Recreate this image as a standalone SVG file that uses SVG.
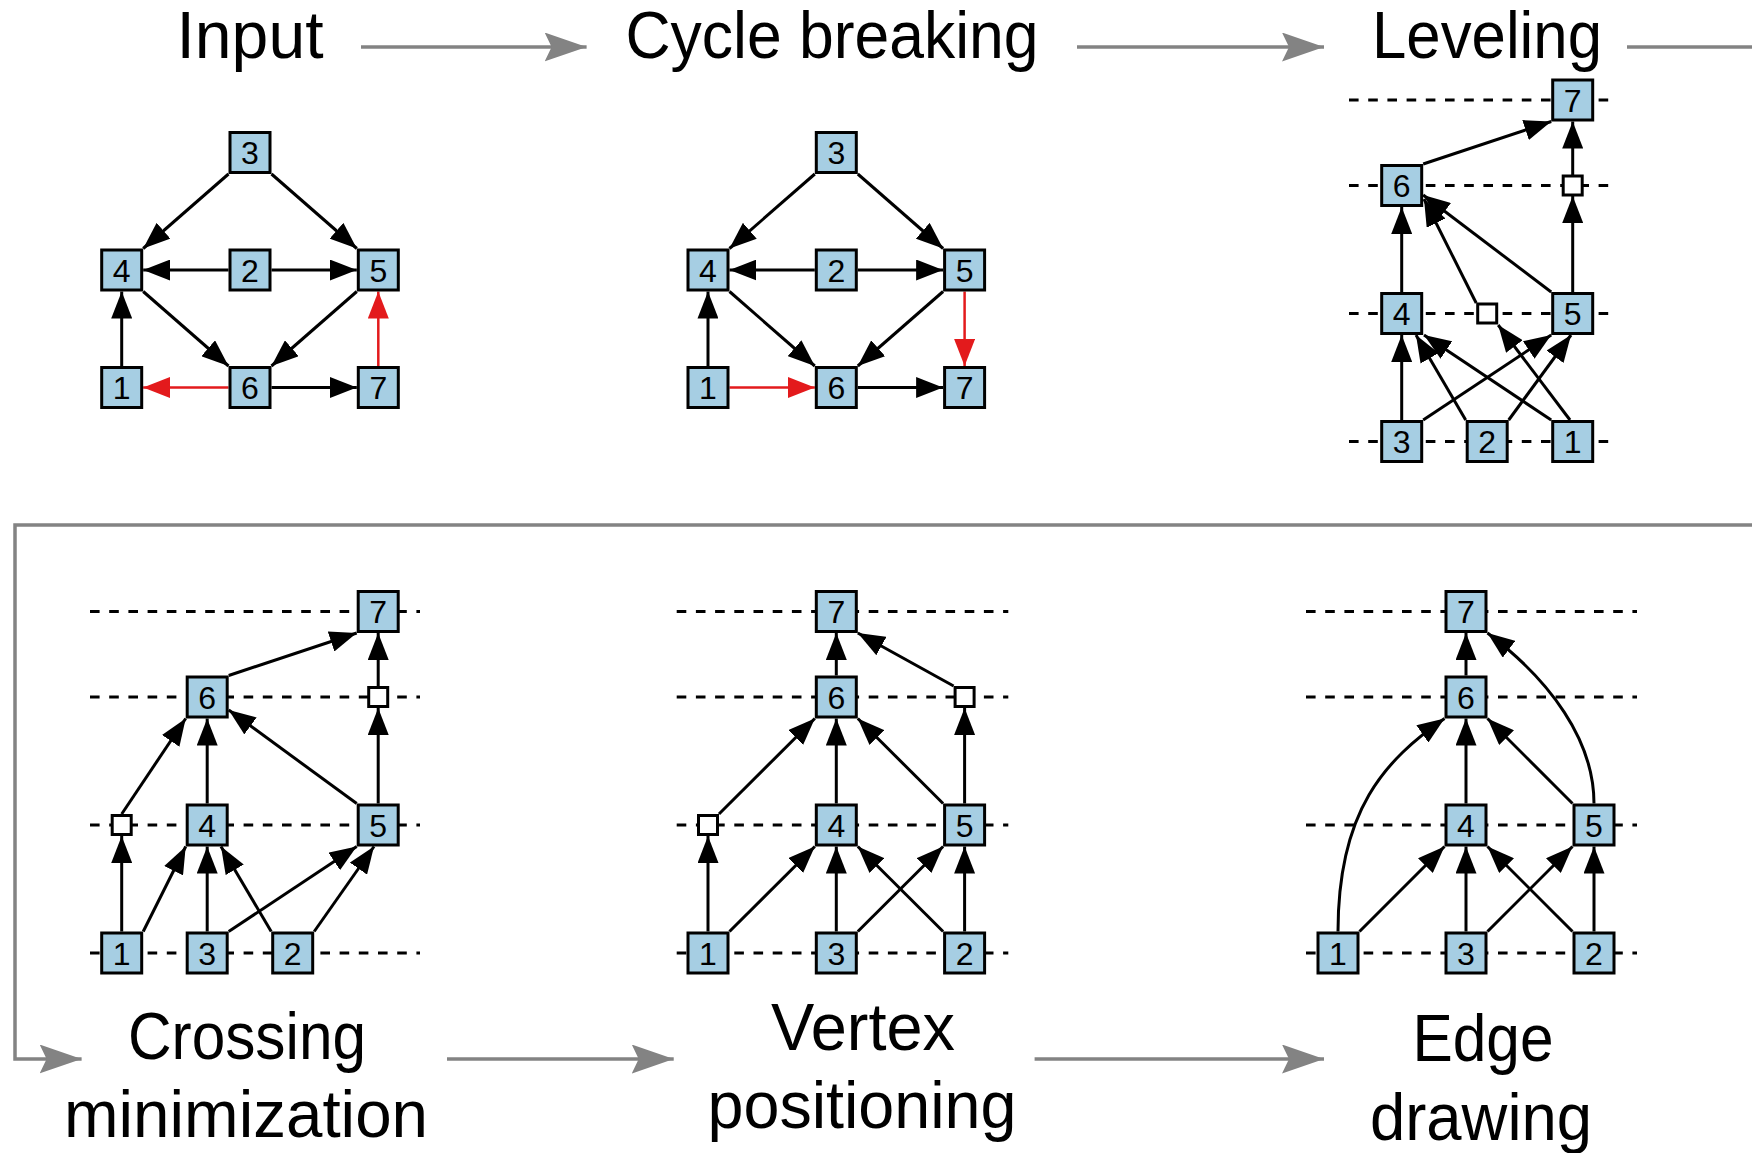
<svg xmlns="http://www.w3.org/2000/svg" width="1752" height="1153" viewBox="0 0 1752 1153">
<style>
.n rect{fill:#a6cee3;stroke:#000;stroke-width:3}
.d rect{fill:#fff;stroke:#000;stroke-width:3}
.n text{font-family:"Liberation Sans",Arial,sans-serif;font-size:32px;text-anchor:middle;fill:#000}
.e{stroke:#000;stroke-width:3;fill:none;marker-end:url(#ah)}
.r{stroke:#e31a1c;stroke-width:2.5;fill:none;marker-end:url(#ahr)}
.lv{stroke:#000;stroke-width:3;stroke-dasharray:9.6 9.6;fill:none}
.g{stroke:#838383;stroke-width:3.5;fill:none}
.ga{marker-end:url(#gah)}
.t{font-family:"Liberation Sans",Arial,sans-serif;font-size:66px;text-anchor:middle;fill:#000}
</style>
<defs>
<marker id="ah" markerUnits="userSpaceOnUse" markerWidth="27" markerHeight="21" viewBox="0 0 27 21" refX="27" refY="10.5" orient="auto"><path d="M0,0 L27,10.5 L0,21 z" fill="#000"/></marker>
<marker id="ahr" markerUnits="userSpaceOnUse" markerWidth="27" markerHeight="21" viewBox="0 0 27 21" refX="27" refY="10.5" orient="auto"><path d="M0,0 L27,10.5 L0,21 z" fill="#e31a1c"/></marker>
<marker id="gah" markerUnits="userSpaceOnUse" markerWidth="42" markerHeight="29" viewBox="0 0 42 29" refX="42" refY="14.5" orient="auto"><path d="M0,0 L42,14.5 L0,29 L7,14.5 z" fill="#838383"/></marker>
</defs>

<!-- titles -->
<g id="titles">
<text class="t" x="250" y="58" textLength="147" lengthAdjust="spacingAndGlyphs">Input</text>
<text class="t" x="832" y="58" textLength="413" lengthAdjust="spacingAndGlyphs">Cycle breaking</text>
<text class="t" x="1487" y="58" textLength="230" lengthAdjust="spacingAndGlyphs">Leveling</text>
<text class="t" x="247" y="1059" textLength="238" lengthAdjust="spacingAndGlyphs">Crossing</text>
<text class="t" x="246" y="1137" textLength="364" lengthAdjust="spacingAndGlyphs">minimization</text>
<text class="t" x="863" y="1050" textLength="184" lengthAdjust="spacingAndGlyphs">Vertex</text>
<text class="t" x="862" y="1128" textLength="309" lengthAdjust="spacingAndGlyphs">positioning</text>
<text class="t" x="1483" y="1061" textLength="141" lengthAdjust="spacingAndGlyphs">Edge</text>
<text class="t" x="1481" y="1140" textLength="222" lengthAdjust="spacingAndGlyphs">drawing</text>
</g>

<!-- process arrows -->
<g id="process-connectors">
<path class="g ga" d="M361,47 H586.6"/>
<path class="g ga" d="M1077,47 H1324"/>
<path class="g" d="M1627,47 H1752"/>
<path class="g ga" d="M1752,525 H15 V1059 H81.6"/>
<path class="g ga" d="M447,1059 H673.7"/>
<path class="g ga" d="M1034.6,1059 H1324"/>
</g>

<!-- level lines -->
<g id="level-lines">
<path class="lv" d="M1349,100 H1615 M1349,185.5 H1615 M1349,313.5 H1615 M1349,441.5 H1615"/>
<path class="lv" d="M90,611.5 H420 M90,697 H420 M90,825 H420 M90,953 H420"/>
<path class="lv" d="M676.7,611.5 H1008.3 M676.7,697 H1008.3 M676.7,825 H1008.3 M676.7,953 H1008.3"/>
<path class="lv" d="M1306,611.5 H1637 M1306,697 H1637 M1306,825 H1637 M1306,953 H1637"/>
</g>

<!-- connectors -->
<g id="connectors">
<!-- Input -->
<path class="e" d="M228.5,174 L143.2,248.5"/>
<path class="e" d="M271.5,174 L356.8,248.5"/>
<path class="e" d="M228.5,270 L143.2,270"/>
<path class="e" d="M271.5,270 L356.8,270"/>
<path class="e" d="M143.2,291.5 L228.5,366"/>
<path class="e" d="M356.8,291.5 L271.5,366"/>
<path class="e" d="M121.7,366 L121.7,291.5"/>
<path class="r" d="M228.5,387.5 L143.2,387.5"/>
<path class="e" d="M271.5,387.5 L356.8,387.5"/>
<path class="r" d="M378.3,366 L378.3,291.5"/>
<!-- Cycle breaking -->
<g transform="translate(586.3,0)">
<path class="e" d="M228.5,174 L143.2,248.5"/>
<path class="e" d="M271.5,174 L356.8,248.5"/>
<path class="e" d="M228.5,270 L143.2,270"/>
<path class="e" d="M271.5,270 L356.8,270"/>
<path class="e" d="M143.2,291.5 L228.5,366"/>
<path class="e" d="M356.8,291.5 L271.5,366"/>
<path class="e" d="M121.7,366 L121.7,291.5"/>
<path class="r" d="M143.2,387.5 L228.5,387.5"/>
<path class="e" d="M271.5,387.5 L356.8,387.5"/>
<path class="r" d="M378.3,291.5 L378.3,366"/>
</g>
<!-- Leveling -->
<path class="e" d="M1423.2,164 L1551.2,121.5"/>
<path class="e" d="M1572.7,175 L1572.7,121.5"/>
<path class="e" d="M1572.7,292 L1572.7,196"/>
<path class="e" d="M1401.7,292 L1401.7,207"/>
<path class="e" d="M1476.2,303 L1424,199"/>
<path class="e" d="M1551.2,292 L1423.2,195"/>
<path class="e" d="M1401.7,420 L1401.7,335"/>
<path class="e" d="M1465.7,420 L1416,335"/>
<path class="e" d="M1551.2,420 L1424,335"/>
<path class="e" d="M1570,420 L1498.2,325"/>
<path class="e" d="M1423.2,420 L1551.2,335"/>
<path class="e" d="M1508.7,420 L1571,335"/>
<!-- Crossing minimization -->
<path class="e" d="M228.7,675.5 L356.7,633"/>
<path class="e" d="M378.2,686 L378.2,633"/>
<path class="e" d="M378.2,803.5 L378.2,708"/>
<path class="e" d="M121.7,814 L185.7,718.5"/>
<path class="e" d="M207.2,803.5 L207.2,718.5"/>
<path class="e" d="M356.7,803.5 L228.7,710"/>
<path class="e" d="M121.7,931.5 L121.7,836"/>
<path class="e" d="M143.2,931.5 L185.7,846.5"/>
<path class="e" d="M207.2,931.5 L207.2,846.5"/>
<path class="e" d="M271.2,931.5 L221,846.5"/>
<path class="e" d="M228.7,931.5 L356.7,846.5"/>
<path class="e" d="M314.2,931.5 L374,846.5"/>
<!-- Vertex positioning -->
<path class="e" d="M836.3,675.5 L836.3,633"/>
<path class="e" d="M953.6,686 L857.8,633"/>
<path class="e" d="M836.3,803.5 L836.3,718.5"/>
<path class="e" d="M719,814 L814.8,718.5"/>
<path class="e" d="M943.1,803.5 L857.8,718.5"/>
<path class="e" d="M964.6,803.5 L964.6,708"/>
<path class="e" d="M708,931.5 L708,836"/>
<path class="e" d="M729.5,931.5 L814.8,846.5"/>
<path class="e" d="M836.3,931.5 L836.3,846.5"/>
<path class="e" d="M943.1,931.5 L857.8,846.5"/>
<path class="e" d="M857.8,931.5 L943.1,846.5"/>
<path class="e" d="M964.6,931.5 L964.6,846.5"/>
<!-- Edge drawing -->
<path class="e" d="M1466,675.5 L1466,633"/>
<path class="e" d="M1594,803.5 C1594,740 1550,680 1487.5,633"/>
<path class="e" d="M1466,803.5 L1466,718.5"/>
<path class="e" d="M1572.5,803.5 L1487.5,718.5"/>
<path class="e" d="M1338,931.5 C1338,810 1385,760 1444.5,718.5"/>
<path class="e" d="M1359.5,931.5 L1444.5,846.5"/>
<path class="e" d="M1466,931.5 L1466,846.5"/>
<path class="e" d="M1572.5,931.5 L1487.5,846.5"/>
<path class="e" d="M1487.5,931.5 L1572.5,846.5"/>
<path class="e" d="M1594,931.5 L1594,846.5"/>
</g>

<!-- Input nodes -->
<g id="a3" class="n"><rect x="230" y="132.5" width="40" height="40"/><text x="250" y="164">3</text></g>
<g id="a4" class="n"><rect x="101.7" y="250" width="40" height="40"/><text x="121.7" y="281.5">4</text></g>
<g id="a2" class="n"><rect x="230" y="250" width="40" height="40"/><text x="250" y="281.5">2</text></g>
<g id="a5" class="n"><rect x="358.3" y="250" width="40" height="40"/><text x="378.3" y="281.5">5</text></g>
<g id="a1" class="n"><rect x="101.7" y="367.5" width="40" height="40"/><text x="121.7" y="399">1</text></g>
<g id="a6" class="n"><rect x="230" y="367.5" width="40" height="40"/><text x="250" y="399">6</text></g>
<g id="a7" class="n"><rect x="358.3" y="367.5" width="40" height="40"/><text x="378.3" y="399">7</text></g>

<!-- Cycle breaking nodes -->
<g transform="translate(586.3,0)">
<g id="b3" class="n"><rect x="230" y="132.5" width="40" height="40"/><text x="250" y="164">3</text></g>
<g id="b4" class="n"><rect x="101.7" y="250" width="40" height="40"/><text x="121.7" y="281.5">4</text></g>
<g id="b2" class="n"><rect x="230" y="250" width="40" height="40"/><text x="250" y="281.5">2</text></g>
<g id="b5" class="n"><rect x="358.3" y="250" width="40" height="40"/><text x="378.3" y="281.5">5</text></g>
<g id="b1" class="n"><rect x="101.7" y="367.5" width="40" height="40"/><text x="121.7" y="399">1</text></g>
<g id="b6" class="n"><rect x="230" y="367.5" width="40" height="40"/><text x="250" y="399">6</text></g>
<g id="b7" class="n"><rect x="358.3" y="367.5" width="40" height="40"/><text x="378.3" y="399">7</text></g>
</g>

<!-- Leveling nodes -->
<g id="c7" class="n"><rect x="1552.7" y="80" width="40" height="40"/><text x="1572.7" y="111.5">7</text></g>
<g id="c6" class="n"><rect x="1381.7" y="165.5" width="40" height="40"/><text x="1401.7" y="197">6</text></g>
<g id="cd6" class="d"><rect x="1563.2" y="176" width="19" height="19"/></g>
<g id="c4" class="n"><rect x="1381.7" y="293.5" width="40" height="40"/><text x="1401.7" y="325">4</text></g>
<g id="cd4" class="d"><rect x="1477.7" y="304" width="19" height="19"/></g>
<g id="c5" class="n"><rect x="1552.7" y="293.5" width="40" height="40"/><text x="1572.7" y="325">5</text></g>
<g id="c3" class="n"><rect x="1381.7" y="421.5" width="40" height="40"/><text x="1401.7" y="453">3</text></g>
<g id="c2" class="n"><rect x="1467.2" y="421.5" width="40" height="40"/><text x="1487.2" y="453">2</text></g>
<g id="c1" class="n"><rect x="1552.7" y="421.5" width="40" height="40"/><text x="1572.7" y="453">1</text></g>

<!-- Crossing minimization nodes -->
<g id="d7" class="n"><rect x="358.2" y="591.5" width="40" height="40"/><text x="378.2" y="623">7</text></g>
<g id="d6" class="n"><rect x="187.2" y="677" width="40" height="40"/><text x="207.2" y="708.5">6</text></g>
<g id="dd6" class="d"><rect x="368.7" y="687.5" width="19" height="19"/></g>
<g id="dd4" class="d"><rect x="112.2" y="815.5" width="19" height="19"/></g>
<g id="d4" class="n"><rect x="187.2" y="805" width="40" height="40"/><text x="207.2" y="836.5">4</text></g>
<g id="d5" class="n"><rect x="358.2" y="805" width="40" height="40"/><text x="378.2" y="836.5">5</text></g>
<g id="d1" class="n"><rect x="101.7" y="933" width="40" height="40"/><text x="121.7" y="964.5">1</text></g>
<g id="d3" class="n"><rect x="187.2" y="933" width="40" height="40"/><text x="207.2" y="964.5">3</text></g>
<g id="d2" class="n"><rect x="272.7" y="933" width="40" height="40"/><text x="292.7" y="964.5">2</text></g>

<!-- Vertex positioning nodes -->
<g id="e7" class="n"><rect x="816.3" y="591.5" width="40" height="40"/><text x="836.3" y="623">7</text></g>
<g id="e6" class="n"><rect x="816.3" y="677" width="40" height="40"/><text x="836.3" y="708.5">6</text></g>
<g id="ed6" class="d"><rect x="955.1" y="687.5" width="19" height="19"/></g>
<g id="ed4" class="d"><rect x="698.5" y="815.5" width="19" height="19"/></g>
<g id="e4" class="n"><rect x="816.3" y="805" width="40" height="40"/><text x="836.3" y="836.5">4</text></g>
<g id="e5" class="n"><rect x="944.6" y="805" width="40" height="40"/><text x="964.6" y="836.5">5</text></g>
<g id="e1" class="n"><rect x="688" y="933" width="40" height="40"/><text x="708" y="964.5">1</text></g>
<g id="e3" class="n"><rect x="816.3" y="933" width="40" height="40"/><text x="836.3" y="964.5">3</text></g>
<g id="e2" class="n"><rect x="944.6" y="933" width="40" height="40"/><text x="964.6" y="964.5">2</text></g>

<!-- Edge drawing nodes -->
<g id="f7" class="n"><rect x="1446" y="591.5" width="40" height="40"/><text x="1466" y="623">7</text></g>
<g id="f6" class="n"><rect x="1446" y="677" width="40" height="40"/><text x="1466" y="708.5">6</text></g>
<g id="f4" class="n"><rect x="1446" y="805" width="40" height="40"/><text x="1466" y="836.5">4</text></g>
<g id="f5" class="n"><rect x="1574" y="805" width="40" height="40"/><text x="1594" y="836.5">5</text></g>
<g id="f1" class="n"><rect x="1318" y="933" width="40" height="40"/><text x="1338" y="964.5">1</text></g>
<g id="f3" class="n"><rect x="1446" y="933" width="40" height="40"/><text x="1466" y="964.5">3</text></g>
<g id="f2" class="n"><rect x="1574" y="933" width="40" height="40"/><text x="1594" y="964.5">2</text></g>
</svg>
